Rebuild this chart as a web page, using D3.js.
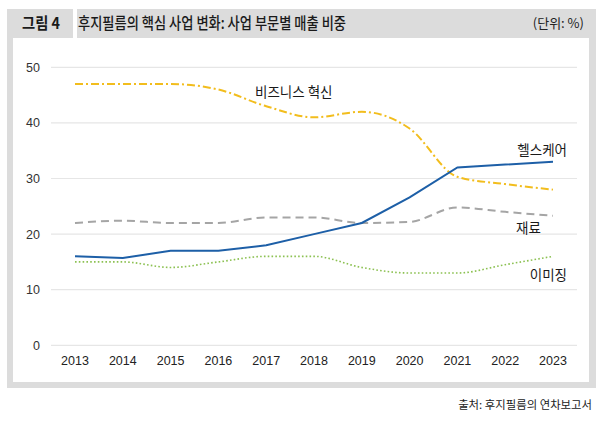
<!DOCTYPE html>
<html><head><meta charset="utf-8">
<script src="https://cdn.jsdelivr.net/npm/d3@7"></script>
<style>body{margin:0;background:#fff;}svg{display:block;}</style>
</head><body>
<svg id="c" width="601" height="423"></svg>
<script>
const years = [2013,2014,2015,2016,2017,2018,2019,2020,2021,2022,2023];
const business = [47,47,47,46,43,41,42,39,30.3,29,28];
const healthcare = [16,15.7,17,17,18,20,22,26.6,32,32.5,33];
const materials = [22,22.4,22,22,23,23,22,22.2,24.8,24,23.3];
const imaging = [15,15,14,15,16,16,14,13,13,14.5,16];
const yTicks = [0,10,20,30,40,50];
const seriesNames = ["비즈니스 혁신","헬스케어","재료","이미징"];
const titleText = "후지필름의 핵심 사업 변화: 사업 부문별 매출 비중";
const figLabel = "그림 4";
const unitText = "(단위: %)";
const sourceText = "출처: 후지필름의 연차보고서";

const svg = d3.select("#c");
const KR = "'Noto Sans CJK KR','Noto Sans',sans-serif";
const LAT = "'Liberation Sans',Arial,sans-serif";

// frame
svg.append("rect").attr("x",7).attr("y",9).attr("width",589).attr("height",379).attr("fill","#dcdcdc");
svg.append("rect").attr("x",13).attr("y",38).attr("width",576).attr("height",344).attr("fill","#fff");
// header gap
svg.append("rect").attr("x",73).attr("y",9).attr("width",4).attr("height",29).attr("fill","#fff");

function fitText(sel, w){
  const l = sel.node().getComputedTextLength();
  if(l>w){ sel.attr("textLength",w).attr("lengthAdjust","spacingAndGlyphs"); }
}
function fitSize(sel, w, fs){
  const l = sel.node().getComputedTextLength();
  if(l>w){ sel.attr("font-size", fs*w/l); }
}
const fl = svg.append("text").attr("x",22).attr("y",29).attr("font-family",KR).attr("font-weight","bold")
  .attr("font-size",16).attr("fill","#1a1a1a").text(figLabel);
fitText(fl,38);
const tt = svg.append("text").attr("x",78).attr("y",29).attr("font-family",KR).attr("font-weight","500")
  .attr("font-size",16).attr("fill","#1a1a1a").text(titleText);
fitText(tt,268);
const ut = svg.append("text").attr("x",584).attr("y",28).attr("text-anchor","end").attr("font-family",KR)
  .attr("font-size",13).attr("fill","#222").text(unitText);
fitText(ut,58);
const st = svg.append("text").attr("x",592).attr("y",409).attr("text-anchor","end").attr("font-family",KR)
  .attr("font-size",12.5).attr("fill","#222").text(sourceText);
fitSize(st,134,12.5);

const x = d3.scalePoint().domain(years).range([75,553]);
const y = d3.scaleLinear().domain([0,50]).range([345.3,67.3]);

// gridlines
svg.append("g").selectAll("line").data(yTicks).join("line")
  .attr("x1",51).attr("x2",577).attr("y1",d=>y(d)).attr("y2",d=>y(d))
  .attr("stroke","#e6e6e6").attr("stroke-width",1.2);
// y labels
svg.append("g").selectAll("text").data(yTicks).join("text")
  .attr("x",40).attr("y",d=>y(d)+4.5).attr("text-anchor","end")
  .attr("font-family",LAT).attr("font-size",12.5).attr("fill","#333").text(d=>d);
// x labels
svg.append("g").selectAll("text").data(years).join("text")
  .attr("x",d=>x(d)).attr("y",365).attr("text-anchor","middle")
  .attr("font-family",LAT).attr("font-size",12.5).attr("fill","#222").text(d=>d);

const smooth = d3.line().x((d,i)=>x(years[i])).y(d=>y(d)).curve(d3.curveMonotoneX);
const straight = d3.line().x((d,i)=>x(years[i])).y(d=>y(d));
const styles = [
  {data:imaging, color:"#8cc152", w:1.6, dash:"1.6,2.2", gen:smooth},
  {data:materials, color:"#a5a5a5", w:2, dash:"8,5", gen:smooth},
  {data:business, color:"#f2bd1d", w:2, dash:"8,3,2,3", gen:smooth},
  {data:healthcare, color:"#1d5fa7", w:2, dash:null, gen:straight}
];
styles.forEach(s=>{
  svg.append("path").attr("d",s.gen(s.data)).attr("fill","none")
    .attr("stroke",s.color).attr("stroke-width",s.w)
    .attr("stroke-dasharray",s.dash);
});

const labels = [
  {t:seriesNames[0], x:255, y:97, a:"start"},
  {t:seriesNames[1], x:567, y:155, a:"end"},
  {t:seriesNames[2], x:516, y:233, a:"start"},
  {t:seriesNames[3], x:567, y:280, a:"end"}
];
svg.append("g").selectAll("text").data(labels).join("text")
  .attr("x",d=>d.x).attr("y",d=>d.y).attr("text-anchor",d=>d.a)
  .attr("font-family",KR).attr("font-size",13.5).attr("fill","#1a1a1a").text(d=>d.t);
</script>
</body></html>
